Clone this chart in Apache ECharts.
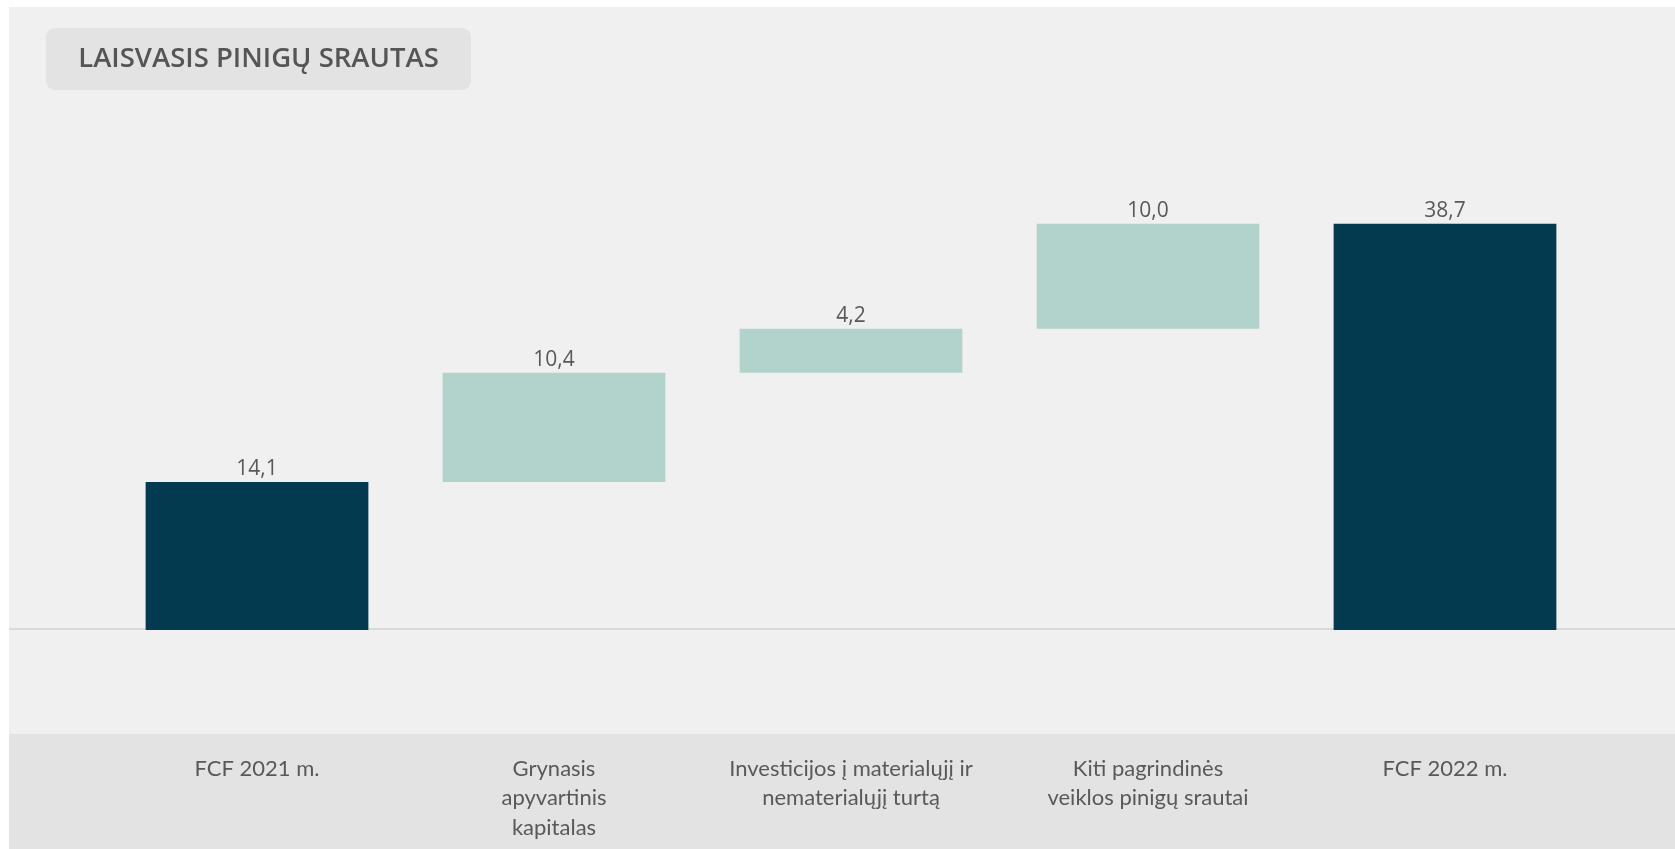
<!DOCTYPE html>
<html>
<head>
<meta charset="utf-8">
<script src="https://cdn.jsdelivr.net/npm/echarts@6/dist/echarts.min.js"></script>
<style>
html,body{margin:0;padding:0;background:#ffffff;}
#chart{width:1675px;height:849px;}
</style>
</head>
<body>
<div id="chart"></div>
<script>
const titleText = 'LAISVASIS PINIGŲ SRAUTAS';
const categories = [
  'FCF 2021 m.',
  'Grynasis\napyvartinis\nkapitalas',
  'Investicijos į materialųjį ir\nnematerialųjį turtą',
  'Kiti pagrindinės\nveiklos pinigų srautai',
  'FCF 2022 m.'
];
const values = [14.1, 10.4, 4.2, 10.0, 38.7];
const isTotal = [true, false, false, false, true];

const DARK = '#033a4f';
const LIGHT = '#b2d3cb';

// invisible base for waterfall steps
const bases = [];
let running = 0;
values.forEach((v, i) => {
  if (isTotal[i]) { bases.push(0); running = v; }
  else { bases.push(running); running += v; }
});

const chart = echarts.init(document.getElementById('chart'));
const option = {
  backgroundColor: '#ffffff',
  animation: false,
  grid: { left: 108.5, right: 81.5, top: 105, bottom: 114 },
  xAxis: {
    type: 'category',
    data: categories,
    axisLine: { show: false, onZero: false },
    axisTick: { show: false },
    axisLabel: {
      color: '#595959',
      fontFamily: 'Lato',
      fontSize: 22,
      lineHeight: 29.5,
      margin: 19,
      interval: 0
    }
  },
  yAxis: {
    type: 'value',
    min: -10,
    max: 50,
    show: false,
    splitLine: { show: false }
  },
  series: [
    {
      type: 'bar',
      stack: 'w',
      data: bases,
      itemStyle: { color: 'transparent' },
      barCategoryGap: '25%',
      silent: true,
      z: 3
    },
    {
      type: 'bar',
      stack: 'w',
      data: values.map((v, i) => ({ value: v, itemStyle: { color: isTotal[i] ? DARK : LIGHT } })),
      barCategoryGap: '25%',
      z: 3,
      label: {
        show: true,
        position: 'top',
        distance: 2,
        color: '#595959',
        fontFamily: 'Open Sans',
        fontSize: 21,
        formatter: p => p.value.toFixed(1).replace('.', ',')
      }
    }
  ]
};
chart.setOption(option);

const zeroY = chart.convertToPixel({ yAxisIndex: 0 }, 0);
chart.setOption({
  graphic: [
    { type: 'rect', z: -10, silent: true, shape: { x: 9, y: 7, width: 1666, height: 727 }, style: { fill: '#f0f0f0' } },
    { type: 'rect', z: -10, silent: true, shape: { x: 9, y: 734, width: 1666, height: 115 }, style: { fill: '#e3e3e3' } },
    { type: 'line', z: -5, silent: true, shape: { x1: 9, y1: zeroY - 1, x2: 1675, y2: zeroY - 1 }, style: { stroke: '#dadada', lineWidth: 2 } },
    { type: 'rect', z: 10, silent: true, shape: { x: 46, y: 28, width: 425, height: 62, r: 9 }, style: { fill: '#e3e3e3' } },
    { type: 'text', z: 11, silent: true, x: 258.5, y: 59.5,
      style: { text: titleText, fill: '#555555', font: '600 27.5px "Open Sans"', align: 'center', verticalAlign: 'middle' } }
  ]
});
</script>
</body>
</html>
